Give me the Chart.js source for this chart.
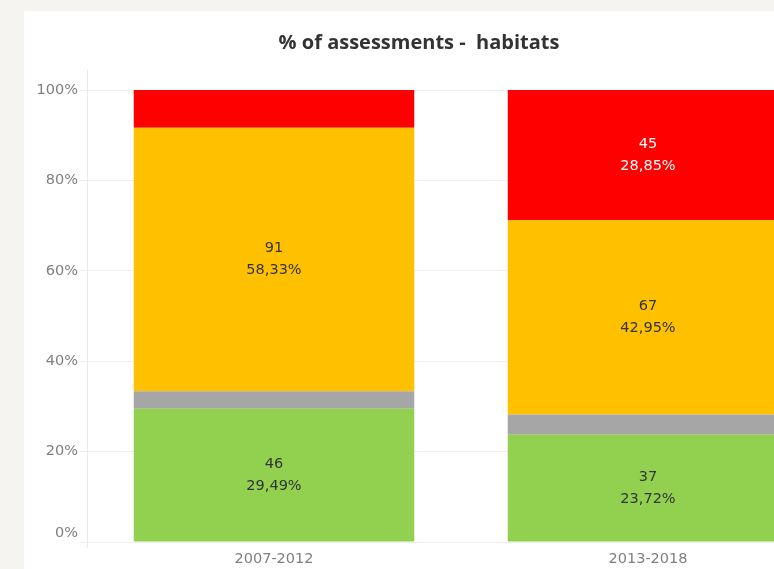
<!DOCTYPE html>
<html>
<head>
<meta charset="utf-8">
<script src="https://cdn.jsdelivr.net/npm/chart.js@4"></script>
<style>
  html, body { margin: 0; padding: 0; background: #f5f4f0; overflow: hidden; width: 774px; height: 569px; }
  #panel { position: absolute; left: 24px; top: 11px; width: 811px; height: 560px; background: #ffffff; }
  canvas { display: block; }
</style>
</head>
<body>
<div id="panel"><canvas id="c" width="811" height="560"></canvas></div>
<script>
const titleText = '% of assessments -  habitats';
const categories = ['2007-2012', '2013-2018'];
const seriesNames = ['Favourable', 'Unknown', 'Unfavourable-inadequate', 'Unfavourable-bad'];
const seriesColors = ['#92d050', '#a6a6a6', '#ffc000', '#ff0000'];
const labelColors = ['#333333', '#333333', '#333333', '#ffffff'];
const greenCounts = [46, 37];
const greyCounts = [6, 7];
const orangeCounts = [91, 67];
const redCounts = [13, 45];
const greenPct = [29.49, 23.72];
const greyPct = [3.85, 4.49];
const orangePct = [58.33, 42.95];
const redPct = [8.33, 28.85];
const yTicks = [0, 20, 40, 60, 80, 100];

const counts = [greenCounts, greyCounts, orangeCounts, redCounts];
const pcts = [greenPct, greyPct, orangePct, redPct];
const FONT = '"DejaVu Sans", sans-serif';

const datasets = seriesNames.map((n, i) => ({
  label: n,
  data: pcts[i],
  counts: counts[i],
  backgroundColor: seriesColors[i],
  labelColor: labelColors[i],
  borderWidth: 0,
  categoryPercentage: 1.0,
  barPercentage: 0.75
}));

const segLabels = {
  id: 'segLabels',
  afterDatasetsDraw(chart) {
    const ctx = chart.ctx;
    ctx.save();
    ctx.font = '14.5px ' + FONT;
    ctx.textAlign = 'center';
    ctx.textBaseline = 'middle';
    chart.data.datasets.forEach((ds, di) => {
      const meta = chart.getDatasetMeta(di);
      meta.data.forEach((bar, j) => {
        const v = ds.data[j];
        if (v < 10) return;
        const cy = (bar.y + bar.base) / 2;
        ctx.fillStyle = ds.labelColor;
        ctx.fillText(String(ds.counts[j]), bar.x, cy - 11);
        ctx.fillText(v.toFixed(2).replace('.', ',') + '%', bar.x, cy + 11);
      });
    });
    ctx.restore();
  }
};

const titlePlugin = {
  id: 'titleDraw',
  beforeDatasetsDraw(chart) {
    const ctx = chart.ctx, a = chart.chartArea;
    ctx.save();
    ctx.strokeStyle = '#ebebeb';
    ctx.lineWidth = 1;
    ctx.beginPath();
    ctx.moveTo(Math.round(a.left) + 0.5, a.top - 20);
    ctx.lineTo(Math.round(a.left) + 0.5, a.bottom + 6);
    ctx.stroke();
    ctx.restore();
  },
  afterDraw(chart) {
    const ctx = chart.ctx;
    ctx.save();
    ctx.font = 'bold 20px "Open Sans", sans-serif';
    ctx.fillStyle = '#333333';
    ctx.textAlign = 'center';
    ctx.textBaseline = 'middle';
    ctx.fillText(titleText, 395, 32);
    ctx.restore();
  }
};

new Chart(document.getElementById('c'), {
  type: 'bar',
  data: { labels: categories, datasets },
  plugins: [segLabels, titlePlugin],
  options: {
    responsive: false,
    animation: false,
    layout: { padding: { top: 79, right: 0, bottom: 0, left: 0 } },
    plugins: { legend: { display: false }, title: { display: false }, tooltip: { enabled: false } },
    scales: {
      x: {
        stacked: true,
        grid: { display: false },
        border: { display: false },
        ticks: { color: '#7f7f7f', font: { size: 14.5, family: FONT }, padding: 1 },
        afterFit(s) { s.height = 29; }
      },
      y: {
        stacked: true,
        min: 0, max: 100,
        afterBuildTicks(s) { s.ticks = yTicks.map(v => ({ value: v })); },
        grid: { color: '#efefef', tickLength: 7, lineWidth: 1 },
        border: { display: false },
        ticks: { color: '#7f7f7f', font: { size: 14.5, family: FONT }, padding: 2,
                 callback: v => v === 0 ? ['0%', ''] : v + '%' },
        afterFit(s) { s.width = 63; }
      }
    }
  }
});
</script>
</body>
</html>
